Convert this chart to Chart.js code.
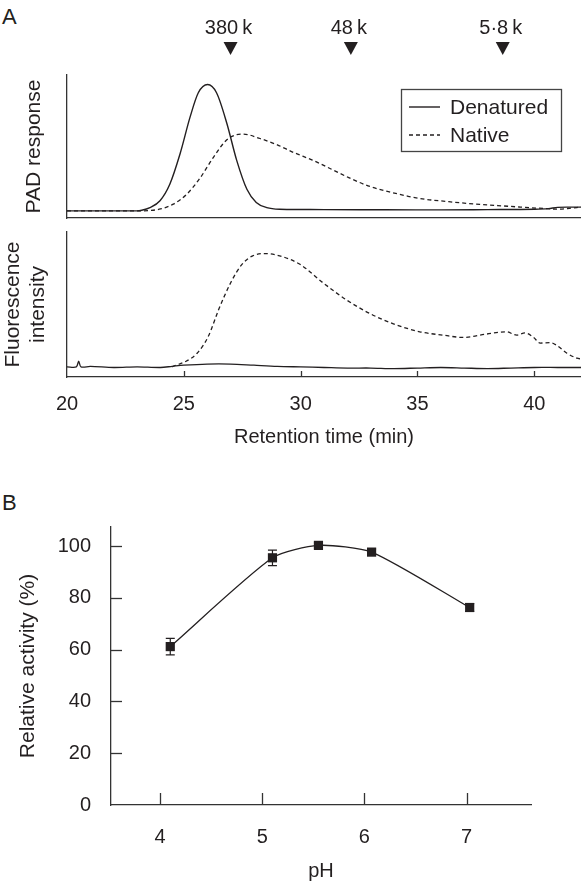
<!DOCTYPE html>
<html>
<head>
<meta charset="utf-8">
<script src="https://cdn.jsdelivr.net/npm/chart.js@4.4.1/dist/chart.umd.min.js"></script>
<style>
  html, body { margin: 0; padding: 0; background: #fff; }
  #wrap { position: relative; width: 581px; height: 883px; background: #fff; overflow: hidden; }
  canvas { position: absolute; left: 0; }
  .panel { position: absolute; font-family: "Liberation Sans", Arial, sans-serif; font-size: 22px; line-height: 22px; color: #231f20; }
</style>
</head>
<body>
<div id="wrap">
  <div class="panel" style="left:2px; top:6px;">A</div>
  <div class="panel" style="left:2px; top:492px;">B</div>
  <canvas id="c1" width="581" height="225" style="top:0px;"></canvas>
  <canvas id="c2" width="581" height="230" style="top:225px;"></canvas>
  <canvas id="c3" width="581" height="428" style="top:455px;"></canvas>
</div>
<script>
// ---------- DATA ----------
// Panel A (top): PAD response vs retention time (min)
const padDenTime = [20, 22, 23.0, 23.2, 23.55, 23.98, 24.4, 24.84, 25.27, 25.62, 26.02, 26.4, 26.84, 27.26, 27.7, 28.1, 28.55, 29.1, 30, 31, 33, 35, 36, 38, 40, 40.6, 41.0, 41.4, 42];
const padDenatured = [0, 0, 0, 0.005, 0.026, 0.08, 0.21, 0.45, 0.74, 0.93, 0.995, 0.93, 0.69, 0.40, 0.17, 0.066, 0.026, 0.013, 0.011, 0.01, 0.009, 0.008, 0.008, 0.01, 0.013, 0.018, 0.028, 0.03, 0.03];
const padNatTime = [20, 23.0, 23.55, 24.0, 24.55, 25.12, 25.7, 26.26, 26.84, 27.26, 27.55, 28.26, 29.0, 29.7, 30.5, 31.3, 32.2, 33.0, 33.8, 34.6, 35.4, 36.2, 37.0, 37.8, 38.6, 39.4, 40.2, 41.0, 41.5, 42];
const padNative = [0, 0, 0.003, 0.015, 0.053, 0.13, 0.26, 0.42, 0.56, 0.60, 0.605, 0.57, 0.52, 0.46, 0.40, 0.33, 0.25, 0.19, 0.15, 0.115, 0.09, 0.075, 0.061, 0.05, 0.04, 0.03, 0.021, 0.014, 0.02, 0.03];

// Panel A (bottom): fluorescence intensity vs retention time (min)
const fluDenTime = [20, 20.4, 20.5, 20.6, 21, 22, 23, 24, 24.5, 25, 26, 27, 28, 29, 30, 31, 32, 33, 34, 35, 36, 37, 38, 39, 40, 41, 42];
const fluDenatured = [0, 0, 0.05, 0, 0.005, -0.005, 0, -0.005, 0.005, 0.015, 0.025, 0.025, 0.015, 0.005, 0, -0.005, -0.01, -0.01, -0.015, -0.01, -0.005, -0.01, -0.015, -0.01, -0.005, -0.005, -0.005];
const fluNatTime = [24.5, 24.6, 25.1, 25.57, 26.05, 26.5, 27.0, 27.47, 27.95, 28.5, 29.1, 29.97, 30.97, 31.97, 32.97, 33.97, 35.1, 36.1, 36.96, 37.97, 38.8, 39.25, 39.6, 39.97, 40.25, 40.68, 40.96, 41.4, 41.83, 42];
const fluNative = [0, 0.01, 0.05, 0.12, 0.27, 0.51, 0.74, 0.90, 0.98, 1.0, 0.98, 0.905, 0.74, 0.59, 0.47, 0.38, 0.31, 0.28, 0.26, 0.29, 0.31, 0.28, 0.30, 0.26, 0.21, 0.215, 0.19, 0.12, 0.077, 0.07];
const retentionTicks = [20, 25, 30, 35, 40];

// Molecular-mass markers
const markerLabels = ['380\u2009k', '48\u2009k', '5\u00b78\u2009k'];
const markerTimes = [27.0, 32.15, 38.65];

// Panel B: relative activity vs pH
const phValues = [4.1, 5.1, 5.55, 6.07, 7.03];
const activity = [61.2, 95.5, 100.3, 97.7, 76.3];
const activityErr = [3.2, 3.0, 1.0, 1.2, 1.5];
const phTicks = [4, 5, 6, 7];
const activityTicks = [0, 20, 40, 60, 80, 100];

// ---------- STYLE ----------
const INK = '#231f20';
const AXIS = '#333333';
const FONT = '"Liberation Sans", Arial, sans-serif';
const zip = (xs, ys) => xs.map((x, i) => ({x, y: ys[i]}));

const inwardTicks = {
  id: 'inwardTicks',
  afterDraw(chart, args, opts) {
    const ctx = chart.ctx;
    const a = chart.chartArea;
    ctx.save();
    ctx.strokeStyle = AXIS;
    ctx.lineWidth = 1.3;
    if (opts.x) {
      const s = chart.scales.x;
      s.ticks.forEach(t => {
        const px = Math.round(s.getPixelForValue(t.value)) + 0.5;
        if (px <= a.left + 2) return;
        ctx.beginPath(); ctx.moveTo(px, a.bottom); ctx.lineTo(px, a.bottom - opts.x); ctx.stroke();
      });
    }
    if (opts.y) {
      const s = chart.scales.y;
      s.ticks.forEach(t => {
        const py = Math.round(s.getPixelForValue(t.value)) + 0.5;
        if (py >= a.bottom - 2) return;
        ctx.beginPath(); ctx.moveTo(a.left, py); ctx.lineTo(a.left + opts.y, py); ctx.stroke();
      });
    }
    ctx.restore();
  }
};

const markerPlugin = {
  id: 'markers',
  afterDraw(chart) {
    const ctx = chart.ctx;
    const s = chart.scales.x;
    ctx.save();
    ctx.fillStyle = INK;
    ctx.font = '20px ' + FONT;
    ctx.textAlign = 'center';
    ctx.textBaseline = 'middle';
    markerTimes.forEach((t, i) => {
      const px = s.getPixelForValue(t);
      ctx.fillText(markerLabels[i], px - 2, 28);
      ctx.beginPath();
      ctx.moveTo(px - 7, 42);
      ctx.lineTo(px + 7, 42);
      ctx.lineTo(px, 55);
      ctx.closePath();
      ctx.fill();
    });
    ctx.restore();
  }
};

const legendPlugin = {
  id: 'boxLegend',
  afterDraw(chart) {
    const ctx = chart.ctx;
    const a = chart.chartArea;
    const bx = a.right - 180, by = a.top + 14, bw = 160, bh = 62;
    ctx.save();
    ctx.strokeStyle = '#444';
    ctx.lineWidth = 1.3;
    ctx.strokeRect(Math.round(bx) + 0.5, Math.round(by) + 0.5, bw, bh);
    ctx.font = '21px ' + FONT;
    ctx.textBaseline = 'middle';
    ctx.textAlign = 'left';
    chart.data.datasets.forEach((ds, i) => {
      const y = by + 18 + i * 28;
      ctx.strokeStyle = ds.borderColor;
      ctx.lineWidth = ds.borderWidth;
      ctx.setLineDash(ds.borderDash || []);
      ctx.beginPath(); ctx.moveTo(bx + 8, y); ctx.lineTo(bx + 39, y); ctx.stroke();
      ctx.setLineDash([]);
      ctx.fillStyle = INK;
      ctx.fillText(ds.label, bx + 49, y + 1);
    });
    ctx.restore();
  }
};

const errorBars = {
  id: 'errorBars',
  beforeDatasetsDraw(chart) {
    const ctx = chart.ctx;
    const xs = chart.scales.x, ys = chart.scales.y;
    ctx.save();
    ctx.strokeStyle = INK;
    ctx.lineWidth = 1.2;
    phValues.forEach((p, i) => {
      const px = xs.getPixelForValue(p);
      const y1 = ys.getPixelForValue(activity[i] - activityErr[i]);
      const y2 = ys.getPixelForValue(activity[i] + activityErr[i]);
      ctx.beginPath();
      ctx.moveTo(px, y1); ctx.lineTo(px, y2);
      ctx.moveTo(px - 4.5, y1); ctx.lineTo(px + 4.5, y1);
      ctx.moveTo(px - 4.5, y2); ctx.lineTo(px + 4.5, y2);
      ctx.stroke();
    });
    ctx.restore();
  }
};

const common = {
  responsive: false,
  animation: false,
  devicePixelRatio: 1,
  events: [],
  plugins: { legend: { display: false }, tooltip: { enabled: false } }
};
const border = { display: true, color: AXIS, width: 1.3 };

// ---------- Chart A top ----------
new Chart(document.getElementById('c1'), {
  type: 'line',
  data: {
    datasets: [
      { label: 'Denatured', data: zip(padDenTime, padDenatured), borderColor: INK, borderWidth: 1.4, pointRadius: 0, cubicInterpolationMode: 'monotone', fill: false },
      { label: 'Native', data: zip(padNatTime, padNative), borderColor: INK, borderWidth: 1.3, borderDash: [4, 3], pointRadius: 0, cubicInterpolationMode: 'monotone', fill: false }
    ]
  },
  options: Object.assign({}, common, {
    layout: { padding: { top: 75, right: 0, bottom: 7, left: 0 } },
    scales: {
      x: { type: 'linear', min: 20, max: 42, ticks: { display: false }, grid: { display: false }, border,
           afterFit(s) { s.height = 0; } },
      y: { type: 'linear', min: -0.056, max: 1.07, ticks: { display: false }, grid: { display: false }, border,
           title: { display: true, text: 'PAD response', color: INK, font: { family: FONT, size: 21 }, padding: { top: 22, bottom: 0 } },
           afterFit(s) { s.width = 67; } }
    }
  }),
  plugins: [markerPlugin, legendPlugin]
});

// ---------- Chart A bottom ----------
new Chart(document.getElementById('c2'), {
  type: 'line',
  data: {
    datasets: [
      { label: 'Denatured', data: zip(fluDenTime, fluDenatured), borderColor: INK, borderWidth: 1.3, pointRadius: 0, tension: 0.3, fill: false },
      { label: 'Native', data: zip(fluNatTime, fluNative), borderColor: INK, borderWidth: 1.3, borderDash: [4, 3], pointRadius: 0, cubicInterpolationMode: 'monotone', fill: false }
    ]
  },
  options: Object.assign({}, common, {
    layout: { padding: { top: 7, right: 0, bottom: 0, left: 0 } },
    scales: {
      x: { type: 'linear', min: 20, max: 42, grid: { display: false }, border,
           afterBuildTicks(s) { s.ticks = retentionTicks.map(v => ({ value: v })); },
           ticks: { color: INK, font: { family: FONT, size: 20 }, padding: 7, autoSkip: false, maxRotation: 0 },
           title: { display: true, text: 'Retention time (min)', color: INK, font: { family: FONT, size: 20 }, padding: { top: 0, bottom: 6 } },
           afterFit(s) { s.height = 78; } },
      y: { type: 'linear', min: -0.089, max: 1.19, ticks: { display: false }, grid: { display: false }, border,
           title: { display: true, text: ['Fluorescence', 'intensity'], color: INK, font: { family: FONT, size: 21 }, padding: { top: 0.5, bottom: 0 } },
           afterFit(s) { s.width = 67; } }
    },
    plugins: Object.assign({}, common.plugins, { inwardTicks: { x: 6 } })
  }),
  plugins: [inwardTicks]
});

// ---------- Chart B ----------
new Chart(document.getElementById('c3'), {
  type: 'line',
  data: {
    datasets: [
      { label: 'Relative activity', data: zip(phValues, activity), borderColor: INK, borderWidth: 1.3,
        pointStyle: 'rect', pointRadius: 6.5, pointBackgroundColor: INK, pointBorderColor: INK, pointBorderWidth: 0,
        tension: 0.22, fill: false }
    ]
  },
  options: Object.assign({}, common, {
    layout: { padding: { top: 72, right: 50, bottom: 0, left: 0 } },
    scales: {
      x: { type: 'linear', min: 3.52, max: 7.63, grid: { display: false }, border,
           afterBuildTicks(s) { s.ticks = phTicks.map(v => ({ value: v })); },
           ticks: { color: INK, font: { family: FONT, size: 20 }, padding: 12, autoSkip: false, maxRotation: 0 },
           title: { display: true, text: 'pH', color: INK, font: { family: FONT, size: 20 }, padding: { top: 0, bottom: 0 } },
           afterFit(s) { s.height = 78; } },
      y: { type: 'linear', min: 0, max: 107.4, grid: { display: false }, border,
           afterBuildTicks(s) { s.ticks = activityTicks.map(v => ({ value: v })); },
           ticks: { color: INK, font: { family: FONT, size: 20 }, padding: 12, autoSkip: false },
           title: { display: true, text: 'Relative activity (%)', color: INK, font: { family: FONT, size: 21 }, padding: { top: 15.4, bottom: 0 } },
           afterFit(s) { s.width = 111; } }
    },
    plugins: Object.assign({}, common.plugins, { inwardTicks: { x: 12, y: 11 } })
  }),
  plugins: [inwardTicks, errorBars]
});
</script>
</body>
</html>
